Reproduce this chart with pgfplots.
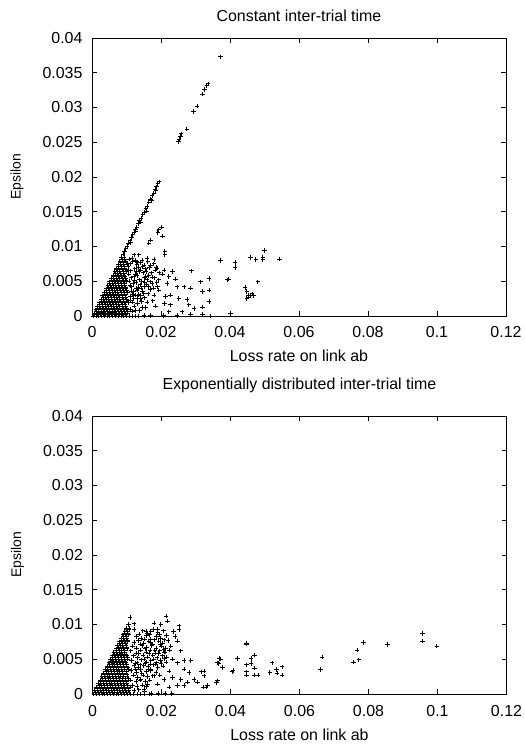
\documentclass[border=0pt]{standalone}
\usepackage{fontspec}
\setmainfont{Liberation Sans}
\usepackage{pgfplots}
\pgfplotsset{compat=1.18}

\pgfplotsset{
  lossaxis/.style={
    scale only axis,
    width=414bp,
    height=278bp,
    xmin=0, xmax=0.12,
    ymin=0, ymax=0.04,
    scaled x ticks=false,
    scaled y ticks=false,
    xtick={0,0.02,0.04,0.06,0.08,0.1,0.12},
    xticklabels={0,0.02,0.04,0.06,0.08,0.1,0.12},
    ytick={0,0.005,0.01,0.015,0.02,0.025,0.03,0.035,0.04},
    yticklabels={0,0.005,0.01,0.015,0.02,0.025,0.03,0.035,0.04},
    tick align=inside,
    major tick length=5bp,
    axis line style={black, line width=0.8bp},
    tick style={black, line width=0.7bp},
    tick label style={font=\fontsize{16}{19}\selectfont},
    xticklabel style={anchor=base, yshift=-22bp},
    yticklabel style={anchor=east, xshift=-6bp},
    xlabel={Loss rate on link ab},
    ylabel={Epsilon},
    xlabel style={font=\fontsize{16}{19}\selectfont,
      at={(axis description cs:0.5,0)}, anchor=base, yshift=-46bp},
    ylabel style={font=\fontsize{14}{17}\selectfont,
      at={(axis description cs:0,0.5)}, anchor=center, yshift=75bp},
    title style={font=\fontsize{16}{19}\selectfont,
      at={(axis description cs:0.5,1)}, anchor=base},
    clip=false,
  },
  pts/.style={only marks, mark=+, mark size=2.2bp, black,
    mark options={line width=0.9bp}},
}

\begin{document}
\begin{tikzpicture}
\useasboundingbox (0,0) rectangle (525bp,748bp);

% constant inter-trial time
\begin{axis}[lossaxis, at={(92bp,432bp)}, anchor=south west,
  title={Constant inter-trial time}, title style={yshift=11bp}]
\addplot[pts] coordinates {
 (0.0004,0) (0.0012,0) (0.0020,0) (0.0028,0) (0.0036,0) (0.0044,0) (0.0052,0) (0.0060,0) (0.0068,0) (0.0076,0) (0.0084,0) (0.0092,0) (0.0100,0) (0.0108,0) (0.0116,0) (0.0125,0) (0.0135,0)
 (0.0151,0.0001) (0.0170,0.0001) (0.0208,0.0001) (0.0247,0.0001) (0.0286,0.0002) (0.0320,0.0002) (0.0344,0) (0.0401,0.0003)
 (0.0008,0.0002) (0.0016,0.0002) (0.0024,0.0002) (0.0032,0.0002) (0.0040,0.0002) (0.0048,0.0002) (0.0056,0.0002) (0.0064,0.0002) (0.0072,0.0002) (0.0080,0.0002) (0.0088,0.0002) (0.0096,0.0002)
 (0.0006,0.0004) (0.0014,0.0004) (0.0022,0.0004) (0.0030,0.0004) (0.0038,0.0004) (0.0046,0.0004) (0.0054,0.0004) (0.0062,0.0004) (0.0070,0.0004) (0.0078,0.0004) (0.0086,0.0004) (0.0094,0.0004) (0.0104,0.0004)
 (0.0012,0.00065) (0.0020,0.00065) (0.0028,0.00065) (0.0036,0.00065) (0.0044,0.00065) (0.0052,0.00065) (0.0060,0.00065) (0.0068,0.00065) (0.0076,0.00065) (0.0084,0.00065) (0.0093,0.00065) (0.0103,0.00065)
 (0.0011,0.0009) (0.0018,0.0009) (0.0026,0.0009) (0.0034,0.0009) (0.0042,0.0009) (0.0050,0.0009) (0.0058,0.0009) (0.0066,0.0009) (0.0074,0.0009) (0.0082,0.0009) (0.0090,0.0009) (0.0099,0.0009) (0.0110,0.0009)
 (0.0017,0.00115) (0.0025,0.00115) (0.0033,0.00115) (0.0041,0.00115) (0.0049,0.00115) (0.0057,0.00115) (0.0065,0.00115) (0.0073,0.00115) (0.0081,0.00115) (0.0090,0.00115) (0.0100,0.00115)
 (0.0016,0.0014) (0.0023,0.0014) (0.0031,0.0014) (0.0039,0.0014) (0.0047,0.0014) (0.0055,0.0014) (0.0063,0.0014) (0.0071,0.0014) (0.0079,0.0014) (0.0088,0.0014) (0.0097,0.0014)
 (0.0022,0.00165) (0.0030,0.00165) (0.0038,0.00165) (0.0046,0.00165) (0.0054,0.00165) (0.0062,0.00165) (0.0070,0.00165) (0.0078,0.00165) (0.0087,0.00165) (0.0096,0.00165)
 (0.0021,0.0019) (0.0028,0.0019) (0.0036,0.0019) (0.0044,0.0019) (0.0052,0.0019) (0.0060,0.0019) (0.0068,0.0019) (0.0076,0.0019) (0.0085,0.0019) (0.0094,0.0019) (0.0106,0.0019)
 (0.0027,0.00215) (0.0035,0.00215) (0.0043,0.00215) (0.0051,0.00215) (0.0059,0.00215) (0.0067,0.00215) (0.0075,0.00215) (0.0083,0.00215) (0.0092,0.00215) (0.0102,0.00215)
 (0.0026,0.0024) (0.0033,0.0024) (0.0041,0.0024) (0.0049,0.0024) (0.0057,0.0024) (0.0065,0.0024) (0.0073,0.0024) (0.0081,0.0024) (0.0090,0.0024) (0.0101,0.0024)
 (0.0032,0.00265) (0.0040,0.00265) (0.0048,0.00265) (0.0056,0.00265) (0.0064,0.00265) (0.0072,0.00265) (0.0080,0.00265) (0.0089,0.00265) (0.0098,0.00265)
 (0.0031,0.0029) (0.0038,0.0029) (0.0046,0.0029) (0.0054,0.0029) (0.0062,0.0029) (0.0070,0.0029) (0.0078,0.0029) (0.0087,0.0029) (0.0096,0.0029)
 (0.0037,0.00315) (0.0045,0.00315) (0.0053,0.00315) (0.0061,0.00315) (0.0069,0.00315) (0.0077,0.00315) (0.0085,0.00315) (0.0094,0.00315)
 (0.0036,0.0034) (0.0043,0.0034) (0.0051,0.0034) (0.0059,0.0034) (0.0067,0.0034) (0.0075,0.0034) (0.0084,0.0034) (0.0093,0.0034) (0.0104,0.0034)
 (0.0042,0.00365) (0.0050,0.00365) (0.0058,0.00365) (0.0066,0.00365) (0.0074,0.00365) (0.0082,0.00365) (0.0091,0.00365) (0.0100,0.00365)
 (0.0041,0.0039) (0.0048,0.0039) (0.0056,0.0039) (0.0064,0.0039) (0.0072,0.0039) (0.0080,0.0039) (0.0089,0.0039) (0.0098,0.0039)
 (0.0047,0.00415) (0.0055,0.00415) (0.0063,0.00415) (0.0071,0.00415) (0.0079,0.00415) (0.0088,0.00415) (0.0097,0.00415)
 (0.0046,0.0044) (0.0053,0.0044) (0.0061,0.0044) (0.0069,0.0044) (0.0077,0.0044) (0.0086,0.0044) (0.0095,0.0044)
 (0.0052,0.00465) (0.0060,0.00465) (0.0068,0.00465) (0.0076,0.00465) (0.0084,0.00465) (0.0093,0.00465)
 (0.0051,0.0049) (0.0058,0.0049) (0.0066,0.0049) (0.0074,0.0049) (0.0082,0.0049) (0.0091,0.0049) (0.0101,0.0049)
 (0.0057,0.00515) (0.0065,0.00515) (0.0073,0.00515) (0.0081,0.00515) (0.0090,0.00515) (0.0099,0.00515)
 (0.0056,0.0054) (0.0063,0.0054) (0.0071,0.0054) (0.0079,0.0054) (0.0088,0.0054) (0.0097,0.0054)
 (0.0062,0.00565) (0.0070,0.00565) (0.0078,0.00565) (0.0086,0.00565) (0.0095,0.00565)
 (0.0061,0.0059) (0.0068,0.0059) (0.0076,0.0059) (0.0084,0.0059) (0.0093,0.0059)
 (0.0067,0.00615) (0.0075,0.00615) (0.0083,0.00615) (0.0092,0.00615)
 (0.0066,0.0064) (0.0073,0.0064) (0.0081,0.0064) (0.0090,0.0064) (0.0099,0.0064)
 (0.0072,0.00665) (0.0080,0.00665) (0.0088,0.00665) (0.0097,0.00665)
 (0.0071,0.0069) (0.0078,0.0069) (0.0086,0.0069) (0.0095,0.0069)
 (0.0077,0.00715) (0.0085,0.00715) (0.0094,0.00715)
 (0.0076,0.0074) (0.0083,0.0074) (0.0091,0.0074) (0.0102,0.0074)
 (0.0082,0.00765) (0.0090,0.00765) (0.0099,0.00765)
 (0.0081,0.0079) (0.0088,0.0079) (0.0097,0.0079)
 (0.0087,0.00815) (0.0095,0.00815) (0.0086,0.0084) (0.0093,0.0084)
 (0.0090,0.0089) (0.0094,0.0093) (0.0098,0.0097) (0.0102,0.0100) (0.0106,0.0105) (0.0110,0.0108) (0.0114,0.0113) (0.0118,0.0117) (0.0122,0.0120) (0.0126,0.0125)
 (0.0130,0.0128) (0.0134,0.0133) (0.0138,0.0137) (0.0142,0.0140) (0.0147,0.0146) (0.0151,0.0149) (0.0156,0.0155) (0.0160,0.0158) (0.0165,0.0164) (0.0170,0.0168)
 (0.0174,0.0173) (0.0179,0.0177) (0.0183,0.0182) (0.0187,0.0186) (0.0191,0.0190) (0.0195,0.0193)
 (0.0112,0.0106) (0.0127,0.0122) (0.0140,0.0135) (0.0158,0.0151) (0.0172,0.0166) (0.0185,0.0180)
 (0.0251,0.0251) (0.0253,0.0254) (0.0256,0.0258) (0.0258,0.0262) (0.0275,0.0269)
 (0.0294,0.0294) (0.0305,0.0302) (0.0320,0.0319) (0.0326,0.0326) (0.0333,0.0331) (0.0337,0.0334) (0.0373,0.0373)
 (0.0105,0.0072) (0.0112,0.0065) (0.0118,0.0078) (0.0125,0.0060) (0.0108,0.0050) (0.0115,0.0042) (0.0120,0.0035) (0.0128,0.0048) (0.0135,0.0070) (0.0138,0.0052)
 (0.0142,0.0040) (0.0145,0.0080) (0.0148,0.0062) (0.0110,0.0028) (0.0118,0.0020) (0.0126,0.0030) (0.0132,0.0018) (0.0140,0.0025) (0.0150,0.0032) (0.0155,0.0068)
 (0.0158,0.0045) (0.0162,0.0078) (0.0165,0.0058) (0.0168,0.0038) (0.0172,0.0062) (0.0176,0.0022) (0.0182,0.0055) (0.0186,0.0070) (0.0190,0.0042) (0.0195,0.0062)
 (0.0112,0.0010) (0.0125,0.0008) (0.0145,0.0012) (0.0160,0.0020) (0.0108,0.0082) (0.0122,0.0088) (0.0130,0.0074)
 (0.0113,0.0055) (0.0119,0.0047) (0.0124,0.0068) (0.0131,0.0058) (0.0134,0.0041) (0.0137,0.0064) (0.0143,0.0049) (0.0147,0.0071) (0.0152,0.0055) (0.0114,0.0036)
 (0.0121,0.0025) (0.0128,0.0040) (0.0136,0.0031) (0.0144,0.0021) (0.0152,0.0026) (0.0163,0.0032) (0.0170,0.0049) (0.0178,0.0040) (0.0183,0.0066) (0.0116,0.0083)
 (0.0106,0.0066) (0.0110,0.0044) (0.0117,0.0031) (0.0123,0.0051) (0.0129,0.0064) (0.0133,0.0025) (0.0139,0.0045) (0.0146,0.0035) (0.0153,0.0048) (0.0157,0.0064)
 (0.0164,0.0042) (0.0167,0.0070) (0.0175,0.0056) (0.0179,0.0075) (0.0188,0.0048) (0.0110,0.0075) (0.0126,0.0080) (0.0140,0.0077) (0.0118,0.0007) (0.0138,0.0008)
 (0.0194,0.0124) (0.0201,0.0128) (0.0191,0.0120) (0.0204,0.0115) (0.0170,0.0109) (0.0165,0.0105) (0.0211,0.0093) (0.0211,0.0088)
 (0.0136,0.0088) (0.0160,0.0083) (0.0180,0.0081) (0.0131,0.0078) (0.0151,0.0073) (0.0170,0.0073) (0.0189,0.0069) (0.0209,0.0066) (0.0233,0.0064) (0.0288,0.0065)
 (0.0204,0.0060) (0.0223,0.0057) (0.0242,0.0053) (0.0194,0.0052) (0.0218,0.0047) (0.0247,0.0042) (0.0267,0.0042) (0.0286,0.0040) (0.0315,0.0049) (0.0339,0.0054)
 (0.0339,0.0037) (0.0320,0.0035) (0.0228,0.0030) (0.0252,0.0025) (0.0276,0.0024) (0.0281,0.0016) (0.0296,0.0011) (0.0320,0.0013) (0.0339,0.0021) (0.0213,0.0028)
 (0.0210,0.0018) (0.0228,0.0016) (0.0261,0.0006) (0.0223,0.0006) (0.0174,0.0047) (0.0160,0.0052) (0.0151,0.0042) (0.0141,0.0030) (0.0131,0.0037) (0.0180,0.0030)
 (0.0194,0.0037) (0.0184,0.0014) (0.0156,0.0012) (0.0122,0.0014) (0.0112,0.0023) (0.0122,0.0057) (0.0107,0.0060) (0.0141,0.0066) (0.0156,0.0057)
 (0.0373,0.0080) (0.0415,0.0077) (0.0415,0.0070) (0.0459,0.0084) (0.0475,0.0081) (0.0495,0.0084) (0.0495,0.0081) (0.0500,0.0094) (0.0543,0.0082)
 (0.0396,0.0053) (0.0481,0.0049) (0.0392,0.0052)
 (0.0444,0.0041) (0.0449,0.0035) (0.0459,0.0030) (0.0464,0.0032) (0.0449,0.0025) (0.0454,0.0027) (0.0468,0.0029) (0.0454,0.0030)
};
\end{axis}

% exponentially distributed inter-trial time
\begin{axis}[lossaxis, at={(92.5bp,54bp)}, anchor=south west,
  title={Exponentially distributed inter-trial time}, title style={yshift=21bp}]
\addplot[pts] coordinates {
 (0.0004,0) (0.0012,0) (0.0020,0) (0.0028,0) (0.0036,0) (0.0044,0) (0.0052,0) (0.0060,0) (0.0068,0) (0.0076,0) (0.0084,0) (0.0092,0) (0.0100,0) (0.0110,0) (0.0120,0) (0.0130,0) (0.0140,0) (0.0152,0) (0.0165,0)
 (0.0009,0.00025) (0.0017,0.00025) (0.0025,0.00025) (0.0033,0.00025) (0.0041,0.00025) (0.0049,0.00025) (0.0057,0.00025) (0.0065,0.00025) (0.0073,0.00025) (0.0081,0.00025) (0.0089,0.00025) (0.0097,0.00025) (0.0106,0.00025)
 (0.0007,0.0005) (0.0015,0.0005) (0.0023,0.0005) (0.0031,0.0005) (0.0039,0.0005) (0.0047,0.0005) (0.0055,0.0005) (0.0063,0.0005) (0.0071,0.0005) (0.0079,0.0005) (0.0087,0.0005) (0.0095,0.0005) (0.0104,0.0005)
 (0.0014,0.00075) (0.0022,0.00075) (0.0030,0.00075) (0.0038,0.00075) (0.0046,0.00075) (0.0054,0.00075) (0.0062,0.00075) (0.0070,0.00075) (0.0078,0.00075) (0.0086,0.00075) (0.0094,0.00075) (0.0103,0.00075)
 (0.0012,0.0010) (0.0019,0.0010) (0.0027,0.0010) (0.0035,0.0010) (0.0043,0.0010) (0.0051,0.0010) (0.0059,0.0010) (0.0067,0.0010) (0.0075,0.0010) (0.0083,0.0010) (0.0091,0.0010) (0.0100,0.0010) (0.0110,0.0010)
 (0.0019,0.00125) (0.0027,0.00125) (0.0035,0.00125) (0.0043,0.00125) (0.0051,0.00125) (0.0059,0.00125) (0.0067,0.00125) (0.0075,0.00125) (0.0083,0.00125) (0.0092,0.00125) (0.0101,0.00125)
 (0.0017,0.0015) (0.0024,0.0015) (0.0032,0.0015) (0.0040,0.0015) (0.0048,0.0015) (0.0056,0.0015) (0.0064,0.0015) (0.0072,0.0015) (0.0080,0.0015) (0.0089,0.0015) (0.0098,0.0015)
 (0.0024,0.00175) (0.0032,0.00175) (0.0040,0.00175) (0.0048,0.00175) (0.0056,0.00175) (0.0064,0.00175) (0.0072,0.00175) (0.0080,0.00175) (0.0089,0.00175) (0.0098,0.00175)
 (0.0022,0.0020) (0.0029,0.0020) (0.0037,0.0020) (0.0045,0.0020) (0.0053,0.0020) (0.0061,0.0020) (0.0069,0.0020) (0.0077,0.0020) (0.0086,0.0020) (0.0095,0.0020) (0.0105,0.0020)
 (0.0029,0.00225) (0.0037,0.00225) (0.0045,0.00225) (0.0053,0.00225) (0.0061,0.00225) (0.0069,0.00225) (0.0077,0.00225) (0.0086,0.00225) (0.0095,0.00225) (0.0104,0.00225)
 (0.0027,0.0025) (0.0034,0.0025) (0.0042,0.0025) (0.0050,0.0025) (0.0058,0.0025) (0.0066,0.0025) (0.0074,0.0025) (0.0082,0.0025) (0.0091,0.0025) (0.0100,0.0025)
 (0.0034,0.00275) (0.0042,0.00275) (0.0050,0.00275) (0.0058,0.00275) (0.0066,0.00275) (0.0074,0.00275) (0.0082,0.00275) (0.0091,0.00275) (0.0100,0.00275)
 (0.0032,0.0030) (0.0039,0.0030) (0.0047,0.0030) (0.0055,0.0030) (0.0063,0.0030) (0.0071,0.0030) (0.0079,0.0030) (0.0088,0.0030) (0.0097,0.0030)
 (0.0039,0.00325) (0.0047,0.00325) (0.0055,0.00325) (0.0063,0.00325) (0.0071,0.00325) (0.0079,0.00325) (0.0088,0.00325) (0.0097,0.00325)
 (0.0037,0.0035) (0.0044,0.0035) (0.0052,0.0035) (0.0060,0.0035) (0.0068,0.0035) (0.0076,0.0035) (0.0085,0.0035) (0.0094,0.0035) (0.0104,0.0035)
 (0.0044,0.00375) (0.0052,0.00375) (0.0060,0.00375) (0.0068,0.00375) (0.0076,0.00375) (0.0084,0.00375) (0.0093,0.00375) (0.0102,0.00375)
 (0.0042,0.0040) (0.0049,0.0040) (0.0057,0.0040) (0.0065,0.0040) (0.0073,0.0040) (0.0081,0.0040) (0.0090,0.0040) (0.0099,0.0040)
 (0.0049,0.00425) (0.0057,0.00425) (0.0065,0.00425) (0.0073,0.00425) (0.0081,0.00425) (0.0090,0.00425) (0.0099,0.00425)
 (0.0047,0.0045) (0.0054,0.0045) (0.0062,0.0045) (0.0070,0.0045) (0.0078,0.0045) (0.0087,0.0045) (0.0096,0.0045)
 (0.0054,0.00475) (0.0062,0.00475) (0.0070,0.00475) (0.0078,0.00475) (0.0086,0.00475) (0.0095,0.00475)
 (0.0052,0.0050) (0.0059,0.0050) (0.0067,0.0050) (0.0075,0.0050) (0.0083,0.0050) (0.0092,0.0050) (0.0102,0.0050)
 (0.0059,0.00525) (0.0067,0.00525) (0.0075,0.00525) (0.0083,0.00525) (0.0092,0.00525) (0.0101,0.00525)
 (0.0057,0.0055) (0.0064,0.0055) (0.0072,0.0055) (0.0080,0.0055) (0.0089,0.0055) (0.0098,0.0055)
 (0.0064,0.00575) (0.0072,0.00575) (0.0080,0.00575) (0.0088,0.00575) (0.0097,0.00575)
 (0.0062,0.0060) (0.0069,0.0060) (0.0077,0.0060) (0.0085,0.0060) (0.0094,0.0060)
 (0.0069,0.00625) (0.0077,0.00625) (0.0085,0.00625) (0.0094,0.00625)
 (0.0068,0.0065) (0.0075,0.0065) (0.0083,0.0065) (0.0091,0.0065) (0.0100,0.0065)
 (0.0074,0.00675) (0.0082,0.00675) (0.0090,0.00675) (0.0099,0.00675)
 (0.0073,0.0070) (0.0080,0.0070) (0.0088,0.0070) (0.0097,0.0070)
 (0.0079,0.00725) (0.0087,0.00725) (0.0095,0.00725)
 (0.0078,0.0075) (0.0085,0.0075) (0.0093,0.0075) (0.0102,0.0075)
 (0.0084,0.00775) (0.0092,0.00775) (0.0101,0.00775)
 (0.0083,0.0080) (0.0090,0.0080) (0.0098,0.0080)
 (0.0089,0.00825) (0.0097,0.00825) (0.0088,0.0085) (0.0095,0.0085) (0.0104,0.0085)
 (0.0094,0.00875) (0.0102,0.00875) (0.0094,0.0090) (0.0101,0.0090) (0.0099,0.00925) (0.0099,0.0095) (0.0106,0.0095) (0.0104,0.0100)
 (0.0146,0.0091) (0.0158,0.0087) (0.0177,0.0093) (0.0189,0.0088) (0.0206,0.0091)
 (0.0127,0.0083) (0.0141,0.0080) (0.0157,0.0084) (0.0168,0.0079) (0.0186,0.0083) (0.0197,0.0080) (0.0214,0.0084)
 (0.0121,0.0074) (0.0133,0.0077) (0.0149,0.0073) (0.0163,0.0076) (0.0175,0.0072) (0.0192,0.0076) (0.0203,0.0073) (0.0219,0.0077)
 (0.0116,0.0069) (0.0128,0.0066) (0.0144,0.0070) (0.0156,0.0067) (0.0172,0.0070) (0.0184,0.0066) (0.0200,0.0069) (0.0212,0.0066)
 (0.0111,0.0062) (0.0127,0.0059) (0.0139,0.0063) (0.0155,0.0060) (0.0167,0.0063) (0.0183,0.0059) (0.0195,0.0062) (0.0211,0.0060) (0.0223,0.0063)
 (0.0119,0.0055) (0.0131,0.0052) (0.0147,0.0056) (0.0159,0.0053) (0.0175,0.0056) (0.0187,0.0052) (0.0203,0.0055) (0.0215,0.0053)
 (0.0113,0.0048) (0.0129,0.0045) (0.0141,0.0049) (0.0157,0.0046) (0.0169,0.0048) (0.0185,0.0045) (0.0197,0.0048) (0.0213,0.0046)
 (0.0121,0.0041) (0.0133,0.0038) (0.0149,0.0041) (0.0161,0.0039) (0.0177,0.0042) (0.0189,0.0038) (0.0205,0.0040)
 (0.0112,0.0034) (0.0128,0.0031) (0.0140,0.0035) (0.0156,0.0032) (0.0168,0.0034) (0.0184,0.0031)
 (0.0119,0.0027) (0.0131,0.0024) (0.0147,0.0027) (0.0159,0.0025) (0.0175,0.0026) (0.0195,0.0027)
 (0.0111,0.0020) (0.0126,0.0018) (0.0138,0.0020) (0.0154,0.0018) (0.0166,0.0020)
 (0.0117,0.0013) (0.0129,0.0011) (0.0145,0.0013) (0.0157,0.0011) (0.0121,0.0005) (0.0134,0.0006) (0.0151,0.0004)
 (0.0135,0.0086) (0.0151,0.0079) (0.0165,0.0085) (0.0180,0.0078) (0.0194,0.0085) (0.0208,0.0078) (0.0138,0.0072) (0.0153,0.0065) (0.0168,0.0074)
 (0.0181,0.0063) (0.0196,0.0071) (0.0207,0.0064) (0.0134,0.0058) (0.0150,0.0050) (0.0164,0.0058) (0.0178,0.0050) (0.0192,0.0058) (0.0208,0.0051)
 (0.0124,0.0044) (0.0138,0.0042) (0.0153,0.0044) (0.0167,0.0043) (0.0183,0.0043) (0.0199,0.0044) (0.0125,0.0036) (0.0143,0.0030) (0.0162,0.0036)
 (0.0109,0.0110) (0.0121,0.0101) (0.0106,0.0093) (0.0121,0.0093) (0.0213,0.0112) (0.0217,0.0105) (0.0179,0.0102) (0.0198,0.0100)
 (0.0155,0.0090) (0.0169,0.0090) (0.0188,0.0093) (0.0235,0.0090) (0.0251,0.0093) (0.0251,0.0098) (0.0239,0.0083) (0.0246,0.0076)
 (0.0227,0.0069) (0.0256,0.0062) (0.0208,0.0060) (0.0232,0.0050) (0.0246,0.0045) (0.0266,0.0048) (0.0285,0.0048) (0.0266,0.0036)
 (0.0280,0.0031) (0.0222,0.0033) (0.0208,0.0021) (0.0232,0.0024) (0.0256,0.0021) (0.0275,0.0017) (0.0295,0.0021) (0.0266,0.0012)
 (0.0246,0.0012) (0.0222,0.0010) (0.0324,0.0033) (0.0324,0.0026) (0.0304,0.0017) (0.0329,0.0010) (0.0333,0.0012)
 (0.0362,0.0045) (0.0372,0.0050) (0.0377,0.0038) (0.0362,0.0019) (0.0169,0.0036) (0.0179,0.0026) (0.0188,0.0014)
 (0.0159,0.0014) (0.0140,0.0021) (0.0150,0.0007) (0.0170,0.0001) (0.0190,0.0001) (0.0210,0.0001) (0.0230,0.0001)
 (0.0359,0.0016) (0.0321,0.0010) (0.0316,0.0032) (0.0366,0.0044) (0.0367,0.0051) (0.0408,0.0034) (0.0420,0.0051)
 (0.0405,0.0032) (0.0446,0.0072) (0.0446,0.0073) (0.0446,0.0042) (0.0446,0.0032) (0.0446,0.0027) (0.0460,0.0044)
 (0.0460,0.0051) (0.0470,0.0056) (0.0470,0.0037) (0.0470,0.0027) (0.0480,0.0027) (0.0514,0.0031) (0.0521,0.0045)
 (0.0533,0.0035) (0.0535,0.0030) (0.0550,0.0039) (0.0550,0.0027) (0.0661,0.0035) (0.0666,0.0053) (0.0756,0.0046)
 (0.0772,0.0049) (0.0767,0.0063) (0.0786,0.0074) (0.0855,0.0071) (0.0957,0.0087) (0.0957,0.0076) (0.0998,0.0069)
};
\end{axis}
\end{tikzpicture}
\end{document}
